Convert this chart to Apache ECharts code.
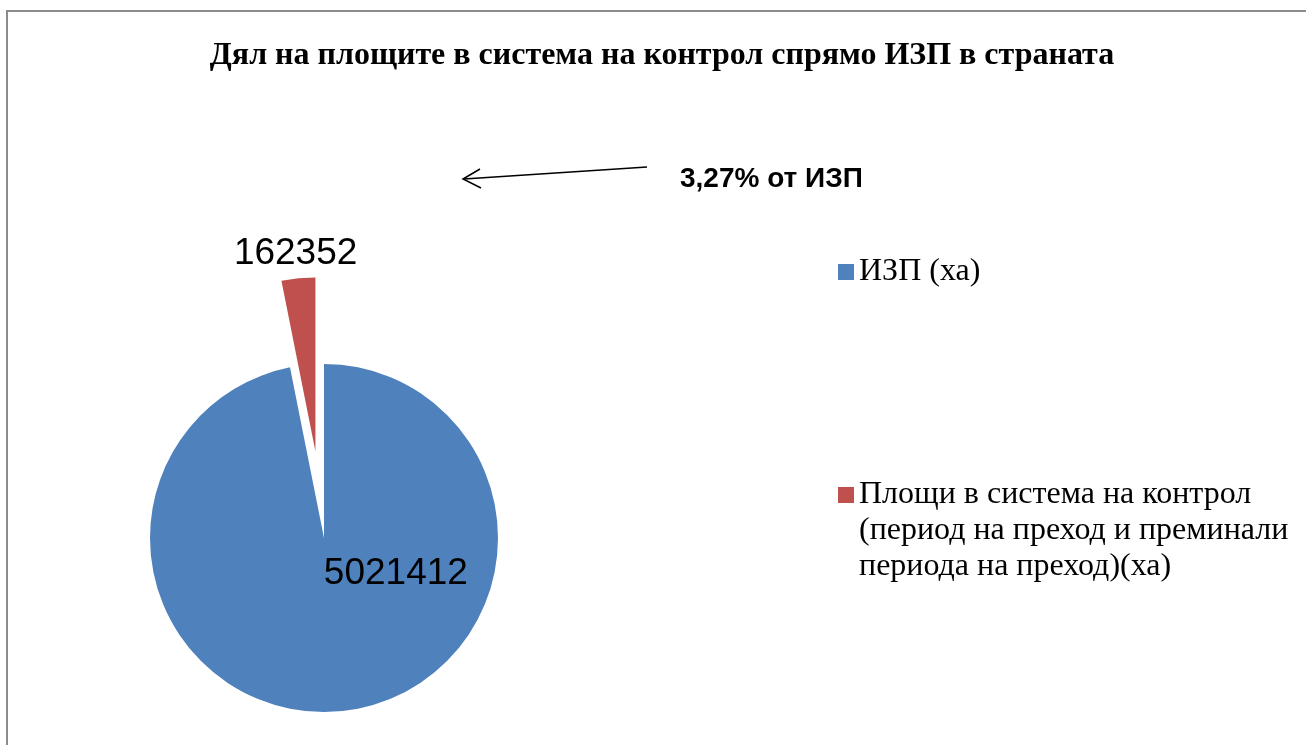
<!DOCTYPE html>
<html>
<head>
<meta charset="utf-8">
<script src="https://cdn.jsdelivr.net/npm/echarts@6/dist/echarts.min.js"></script>
<style>
  html, body { margin: 0; padding: 0; background: #fff; }
  #chart { width: 1306px; height: 745px; }
</style>
</head>
<body>
<div id="chart"></div>
<script>
// данни
const names = ['ИЗП (ха)', 'Площи в система на контрол (период на преход и преминали периода на преход)(ха)']
const values = [5021412, 162352]
const colors = ['#4F81BD', '#C0504D']
const titleText = 'Дял на площите в система на контрол спрямо ИЗП в страната'
const noteText = '3,27% от ИЗП'

const chart = echarts.init(document.getElementById('chart'))

// заглавието е центрирано малко вдясно от средата
const titleFont = 'bold 32px "Liberation Serif"'
const ctx = document.createElement('canvas').getContext('2d')
ctx.font = titleFont
const titleW = ctx.measureText(titleText).width

const legendText = {
  fontFamily: 'Liberation Serif',
  fontSize: 32,
  lineHeight: 36,
  color: '#000'
}

chart.setOption({
  animation: false,
  title: {
    text: titleText,
    left: 662 - titleW / 2 - 5,
    top: 35,
    padding: 5,
    textStyle: {
      fontFamily: 'Liberation Serif',
      fontSize: 32,
      fontWeight: 'bold',
      color: '#000'
    }
  },
  legend: [
    {
      data: [names[0]],
      left: 833,
      top: 249,
      itemWidth: 16,
      itemHeight: 16,
      icon: 'rect',
      selectedMode: false,
      textStyle: legendText
    },
    {
      data: [names[1]],
      left: 833,
      top: 400,
      itemWidth: 16,
      itemHeight: 16,
      icon: 'rect',
      selectedMode: false,
      // две празни реда отгоре, за да е маркерът до първия ред
      formatter: (name) => '\n\n' + name.replace('контрол ', 'контрол\n').replace('преминали ', 'преминали\n'),
      textStyle: legendText
    }
  ],
  graphic: [
    // рамка
    {
      type: 'rect',
      shape: { x: 7, y: 11, width: 1400, height: 800 },
      style: { fill: 'none', stroke: '#8c8c8c', lineWidth: 2 },
      silent: true
    },
    // стрелка
    {
      type: 'line',
      shape: { x1: 647, y1: 167, x2: 464, y2: 179 },
      style: { stroke: '#000', lineWidth: 1.5 }
    },
    {
      type: 'polyline',
      shape: { points: [[480, 169], [463, 179], [481, 188]] },
      style: { stroke: '#000', lineWidth: 1.5, fill: 'none' }
    },
    {
      type: 'text',
      x: 680,
      y: 179,
      style: {
        text: noteText,
        fontFamily: 'Liberation Sans',
        fontSize: 28,
        fontWeight: 'bold',
        fill: '#000',
        verticalAlign: 'middle'
      }
    }
  ],
  series: [
    {
      type: 'pie',
      center: [324, 538],
      radius: 174,
      startAngle: 90,
      clockwise: true,
      selectedMode: 'single',
      selectedOffset: 87,
      label: {
        show: true,
        position: 'inside',
        formatter: '{c}',
        fontFamily: 'Liberation Sans',
        fontSize: 37,
        color: '#000'
      },
      labelLine: { show: false },
      labelLayout: (params) => params.dataIndex === 0 ? { dx: 63, dy: -54 } : { dx: -11, dy: -108 },
      emphasis: { disabled: true },
      data: names.map((n, i) => ({
        name: n,
        value: values[i],
        selected: i === 1,
        itemStyle: { color: colors[i] }
      }))
    }
  ]
})
</script>
</body>
</html>
